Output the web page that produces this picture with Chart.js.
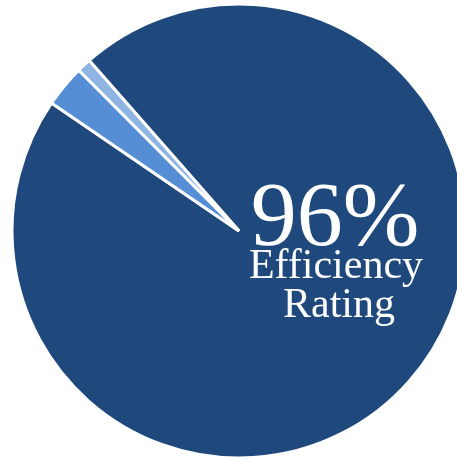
<!DOCTYPE html>
<html>
<head>
<meta charset="utf-8">
<script src="https://cdn.jsdelivr.net/npm/chart.js@4/dist/chart.umd.min.js"></script>
<style>
html,body{margin:0;padding:0;background:#fff;overflow:hidden;width:457px;height:459px;}
#wrap{position:absolute;left:0;top:0;width:478px;height:462px;}
</style>
</head>
<body>
<div id="wrap"><canvas id="c" width="478" height="462"></canvas></div>
<script>
const categories = ["Efficient", "Loss A", "Loss B"];
const values = [96, 3, 1];
const sliceColors = ["#1F497D", "#558ED5", "#8EB4E3"];
const headline = "96%";
const captionLines = ["Efficiency", "Rating"];

const centerText = {
  id: 'centerText',
  afterDraw(chart) {
    const ctx = chart.ctx;
    const a = chart.chartArea;
    const cx = (a.left + a.right) / 2;
    const cy = (a.top + a.bottom) / 2;
    ctx.save();
    ctx.fillStyle = '#ffffff';
    ctx.textAlign = 'center';
    ctx.textBaseline = 'alphabetic';
    ctx.font = '92px "Liberation Serif", "DejaVu Serif", serif';
    ctx.fillText(headline, cx + 96, cy + 14);
    ctx.font = '42px "Liberation Serif", "DejaVu Serif", serif';
    ctx.fillText(captionLines[0], cx + 97, cy + 47);
    ctx.fillText(captionLines[1], cx + 100, cy + 86);
    ctx.restore();
  }
};

new Chart(document.getElementById('c'), {
  type: 'pie',
  data: {
    labels: categories,
    datasets: [{
      data: values,
      backgroundColor: sliceColors,
      borderColor: '#ffffff',
      borderWidth: 3,
      radius: 227
    }]
  },
  options: {
    responsive: false,
    animation: false,
    rotation: -41.3,
    layout: { padding: 0 },
    plugins: { legend: { display: false }, tooltip: { enabled: false } }
  },
  plugins: [centerText]
});
</script>
</body>
</html>
